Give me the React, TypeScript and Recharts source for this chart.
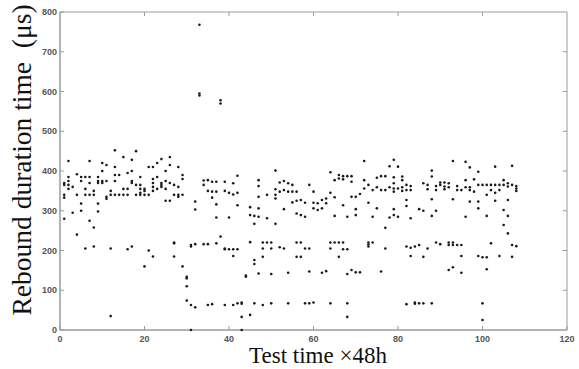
import { ScatterChart, Scatter, XAxis, YAxis, ReferenceArea, ReferenceLine } from "recharts";

// test day index (x48h) and the rebound readings taken that day (µs)
const testDays = [
    1, 2, 3, 4, 5, 6, 7, 8, 9, 10, 11, 12, 13, 14, 15, 16, 17, 18, 19, 20,
    21, 22, 23, 24, 25, 26, 27, 28, 29, 30, 31, 32, 33, 34, 35, 36, 37, 38, 39, 40,
    41, 42, 43, 44, 45, 46, 47, 48, 49, 50, 51, 52, 53, 54, 55, 56, 57, 58, 59, 60,
    61, 62, 63, 64, 65, 66, 67, 68, 69, 70, 71, 72, 73, 74, 75, 76, 77, 78, 79, 80,
    81, 82, 83, 84, 85, 86, 87, 88, 89, 90, 91, 92, 93, 94, 95, 96, 97, 98, 99, 100,
    101, 102, 103, 104, 105, 106, 107, 108,
];

const reboundTimes = [
    [370, 365, 340, 333, 280], [425, 385, 375, 365, 355], [360, 295], [392, 340, 240],
    [385, 375, 318, 300], [385, 355, 340, 205], [425, 385, 370, 340, 275], [350, 340, 258, 210],
    [385, 375, 370, 318, 298], [420, 400, 375, 370], [415, 375, 335, 330], [350, 340, 205, 35],
    [452, 410, 390, 375, 340], [390, 340], [435, 355, 340], [395, 355, 340, 203],
    [428, 400, 375, 370, 210], [450, 365, 340], [385, 365, 355, 345, 340], [355, 350, 340, 160],
    [410, 340, 200], [410, 380, 370, 360, 350, 185], [420, 385, 355], [430, 370, 365, 360],
    [400, 375, 355, 325], [435, 415, 370, 325], [365, 340, 220, 218, 185], [410, 360, 340, 335],
    [390, 380, 340, 160], [134, 130, 110, 74], [214, 210, 63, 0], [323, 303, 216, 57],
    [768, 595, 590], [376, 365, 216], [377, 350, 216, 63], [373, 348, 333, 65],
    [373, 348, 316, 283, 218], [578, 570, 235], [373, 350, 205, 203, 63], [345, 283, 203],
    [369, 341, 203, 186, 63], [388, 345, 314, 203, 67], [69, 66, 33, 0], [137, 134],
    [309, 289, 221, 38], [287, 267, 176, 166, 67], [377, 362, 335, 306, 285, 142], [220, 205, 184, 63],
    [340, 281, 220], [220, 205, 141, 67], [401, 354, 340, 331, 267], [371, 348, 208],
    [375, 352, 304, 205], [369, 348, 144, 67], [365, 348, 321], [348, 325, 293, 220, 184],
    [327, 289, 220, 184], [320, 285, 205, 67], [365, 205, 147, 67], [348, 320, 306, 69],
    [319, 302], [327, 306, 144], [331, 319, 148], [397, 345, 220, 205, 67],
    [377, 334, 287, 220], [390, 381, 220, 184], [387, 379, 314, 220, 203], [387, 285, 203, 141, 67, 33],
    [387, 373, 335, 151], [335, 304, 289, 145], [342, 145], [425, 377, 356],
    [365, 320, 220, 215, 210], [352, 285, 220], [383, 359, 306], [387, 352, 147],
    [387, 352, 257, 205], [412, 359, 283], [428, 384, 369, 356, 348, 304, 289], [411, 356, 285],
    [386, 377, 359, 350], [365, 352, 327, 312, 210, 65], [362, 352, 281, 207, 186], [210, 69, 66],
    [304, 214, 67], [369, 300, 184, 67], [365, 354, 205], [401, 386, 329, 287, 67],
    [362, 352, 300, 220], [371, 365, 216], [371, 361, 354], [369, 359, 220, 214, 151],
    [425, 329, 220, 214, 158], [362, 352, 214], [352, 214, 186, 144], [423, 377, 359, 285],
    [409, 359, 352, 323], [379, 348], [398, 365, 323, 306, 186], [365, 183, 67, 25],
    [365, 340, 287, 183, 153], [365, 352, 218], [411, 365, 345, 325], [365, 352, 186],
    [377, 365, 302, 264], [369, 361, 327, 287, 243], [413, 365, 214, 184], [362, 356, 350, 211],
];

const xTicks = [0, 20, 40, 60, 80, 100, 120];
const yTicks = [0, 100, 200, 300, 400, 500, 600, 700, 800];

const points = testDays.flatMap((day, i) => reboundTimes[i].map((v) => ({ x: day, y: v })));

const AXIS = "#9a9a9a";
const tickFont = { fontFamily: "Arial, 'Liberation Sans', sans-serif", fontSize: 9, fontWeight: 700, fill: "#555" };

const BottomTick = ({ x, y, payload }: any) => (
    <g>
        <line x1={x} y1={y} x2={x} y2={y - 4} stroke={AXIS} />
        <text x={x} y={y + 12} textAnchor="middle" {...tickFont}>{payload.value}</text>
    </g>
);

const LeftTick = ({ x, y, payload }: any) => (
    <g>
        <line x1={x} y1={y} x2={x + 4} y2={y} stroke={AXIS} />
        <text x={x - 3} y={y + 3} textAnchor="end" {...tickFont}>{payload.value}</text>
    </g>
);

const Dot = ({ cx, cy }: any) => <circle cx={cx} cy={cy} r={1.3} fill="#1a1a1a" />;

export default function App() {
    return (
        <div style={{ position: "absolute", left: 0, top: 0, width: 579, height: 369, background: "#fff" }}>
            <ScatterChart width={579} height={369} margin={{ top: 12, right: 12, left: 0, bottom: 19 }}>
                <XAxis
                    type="number" dataKey="x" domain={[0, 120]} ticks={xTicks} height={20}
                    stroke={AXIS} tickLine={false} tickSize={0} tickMargin={0} tick={<BottomTick />}
                />
                <YAxis
                    type="number" dataKey="y" domain={[0, 800]} ticks={yTicks} width={60}
                    stroke={AXIS} tickLine={false} tickSize={0} tickMargin={0} tick={<LeftTick />}
                />
                <ReferenceArea x1={0} x2={120} y1={0} y2={800} fill="none" stroke={AXIS} strokeWidth={1} />
                {xTicks.slice(1, -1).map((t) => (
                    <ReferenceLine key={"tx" + t} segment={[{ x: t, y: 800 }, { x: t, y: 790 }]} stroke={AXIS} />
                ))}
                {yTicks.slice(1, -1).map((t) => (
                    <ReferenceLine key={"ty" + t} segment={[{ x: 120, y: t }, { x: 119, y: t }]} stroke={AXIS} />
                ))}
                <Scatter data={points} shape={<Dot />} isAnimationActive={false} />
            </ScatterChart>
            <div
                style={{
                    position: "absolute", left: 22, top: 160, transform: "translate(-50%, -50%) rotate(-90deg)",
                    whiteSpace: "pre", fontFamily: "'Liberation Serif', 'Times New Roman', serif", fontSize: 27.5, color: "#111",
                }}
            >
                {"Rebound duration time  (μs)"}
            </div>
            <div
                style={{
                    position: "absolute", left: 318, top: 356, transform: "translate(-50%, -50%)",
                    whiteSpace: "pre", fontFamily: "'Liberation Serif', 'Times New Roman', serif", fontSize: 23, color: "#111",
                }}
            >
                Test time ×48h
            </div>
        </div>
    );
}
